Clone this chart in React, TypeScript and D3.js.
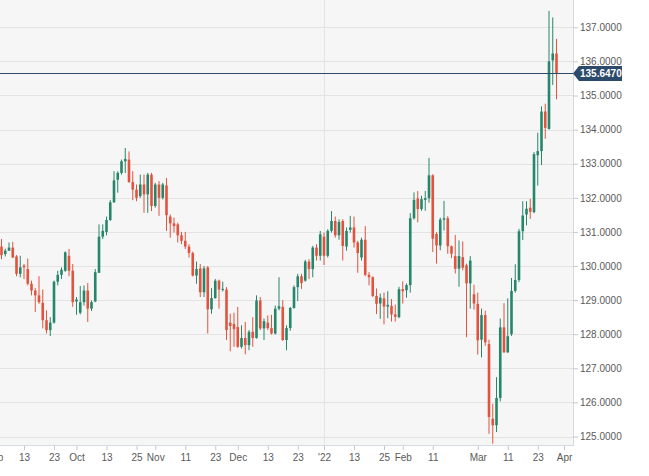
import { useEffect, useRef } from 'react';
import * as d3 from 'd3';

// open, high, low, close
type Bar = [number, number, number, number];

const sep21: Bar[] = [
  [130.57, 130.79, 130.2, 130.32], [130.35, 130.51, 130.28, 130.45], [130.45, 130.69, 130.44, 130.54],
  [130.54, 130.71, 130.23, 130.25], [130.28, 130.32, 129.7, 129.77], [129.77, 130.3, 129.67, 129.96],
  [130.01, 130.06, 129.62, 129.96], [129.91, 130.22, 129.43, 129.48], [129.48, 129.57, 129.14, 129.28],
  [129.28, 129.35, 128.65, 129.14], [129.14, 129.7, 128.89, 128.94], [128.92, 129.31, 128.17, 128.41],
  [128.41, 128.7, 128.02, 128.12], [128.12, 128.5, 127.95, 128.34], [128.34, 129.57, 128.31, 129.54],
  [129.54, 129.86, 129.43, 129.74], [129.74, 129.96, 129.62, 129.89], [129.86, 130.43, 129.83, 130.4],
  [130.3, 130.5, 129.7, 129.86], [129.86, 130.06, 128.8, 128.94],
];
const oct21: Bar[] = [
  [128.96, 129.09, 128.57, 129.02], [128.63, 129.41, 128.58, 128.94], [128.94, 129.43, 128.84, 129.28],
  [129.28, 129.5, 128.36, 128.75], [128.75, 128.99, 128.68, 128.94], [128.96, 129.91, 128.94, 129.82],
  [129.8, 131.22, 129.8, 130.86], [130.86, 131.22, 130.79, 131.03], [131.0, 131.45, 130.9, 131.35],
  [131.35, 131.93, 131.32, 131.87], [131.87, 132.78, 131.85, 132.51], [132.53, 132.78, 132.15, 132.73],
  [132.73, 133.12, 132.68, 133.07], [133.07, 133.46, 132.73, 133.14], [133.12, 133.36, 132.44, 132.46],
  [132.46, 132.78, 131.93, 132.24], [132.24, 132.39, 131.9, 132.0], [132.05, 132.68, 132.0, 132.39],
  [132.39, 132.68, 131.56, 132.1], [132.1, 132.73, 131.56, 132.68], [132.68, 132.73, 131.61, 131.76],
];
const nov21: Bar[] = [
  [131.76, 132.44, 131.71, 132.39], [132.39, 132.49, 131.47, 132.0], [132.0, 132.44, 131.95, 132.39],
  [132.36, 132.58, 131.03, 131.49], [131.45, 131.51, 130.83, 131.25], [131.25, 131.42, 130.98, 131.17],
  [131.22, 131.27, 130.69, 130.9], [130.9, 131.0, 130.64, 130.74], [130.74, 131.0, 130.5, 130.57],
  [130.57, 130.64, 130.25, 130.38], [130.38, 130.42, 129.69, 129.72], [129.72, 130.13, 129.48, 129.91],
  [129.93, 130.06, 129.09, 129.23], [129.23, 130.0, 129.09, 129.93], [129.96, 130.0, 128.02, 128.73],
  [128.73, 129.35, 128.6, 129.06], [129.06, 129.62, 129.04, 129.57], [129.57, 129.6, 128.75, 129.31],
  [129.3, 129.54, 129.25, 129.33], [129.31, 129.38, 127.83, 128.12], [128.34, 128.6, 127.5, 128.24],
  [128.3, 128.63, 127.63, 128.15],
];
const dec21: Bar[] = [
  [128.21, 128.8, 127.6, 127.63], [127.63, 128.26, 127.58, 127.89], [127.89, 128.36, 127.41, 127.68],
  [127.68, 128.12, 127.53, 128.07], [128.07, 128.5, 127.63, 127.89], [127.89, 129.14, 127.87, 128.99],
  [128.99, 129.09, 128.12, 128.17], [128.17, 128.46, 127.83, 128.38], [128.34, 128.55, 128.12, 128.18],
  [128.18, 128.57, 127.99, 128.02], [128.02, 128.84, 127.99, 128.75], [128.75, 129.67, 128.7, 128.82],
  [128.8, 129.0, 127.8, 127.83], [127.83, 128.26, 127.53, 128.18], [128.18, 128.8, 128.1, 128.77],
  [128.77, 129.43, 128.75, 129.38], [129.38, 129.77, 128.97, 129.7], [129.7, 129.77, 129.33, 129.5],
  [129.57, 130.18, 129.54, 130.13], [130.13, 130.2, 129.62, 129.91], [129.91, 130.59, 129.67, 130.54],
  [130.54, 130.64, 130.16, 130.3], [130.3, 131.03, 130.16, 130.93],
];
const jan22: Bar[] = [
  [130.86, 130.98, 130.03, 130.3], [130.3, 131.08, 130.25, 131.03], [131.03, 131.61, 130.98, 131.32],
  [131.32, 131.45, 130.83, 130.9], [130.9, 131.37, 130.77, 131.29], [131.32, 131.37, 130.16, 130.59],
  [130.57, 131.13, 130.45, 131.03], [131.06, 131.47, 130.98, 131.13], [131.13, 131.45, 130.54, 130.69],
  [130.69, 130.74, 129.8, 130.38], [130.25, 130.83, 130.16, 130.77], [130.77, 131.17, 129.7, 129.74],
  [129.74, 129.82, 129.43, 129.67], [129.67, 129.7, 129.09, 129.12], [129.12, 129.34, 128.59, 128.89],
  [128.9, 129.19, 128.45, 129.07], [129.05, 129.22, 128.29, 128.81], [128.81, 129.26, 128.47, 128.86],
  [128.83, 129.03, 128.37, 128.58], [128.58, 128.87, 128.37, 128.51], [128.5, 129.39, 128.47, 129.32],
];
const feb22: Bar[] = [
  [129.32, 129.55, 128.9, 129.26], [129.29, 129.49, 129.07, 129.44], [129.44, 131.55, 129.22, 131.4],
  [131.4, 132.16, 131.36, 131.94], [131.98, 132.2, 131.28, 131.67], [131.67, 132.06, 131.62, 131.96],
  [131.94, 132.2, 131.62, 131.99], [131.99, 133.17, 131.86, 132.66], [132.66, 132.69, 130.41, 130.8],
  [130.94, 130.99, 130.07, 130.6], [130.6, 131.42, 130.46, 131.36], [131.36, 131.91, 131.04, 131.4],
  [131.4, 131.46, 130.36, 130.58], [130.58, 130.6, 130.23, 130.36], [130.29, 130.91, 129.78, 129.92],
  [129.92, 130.75, 129.39, 130.29], [130.26, 130.72, 129.87, 129.95], [130.02, 130.07, 127.91, 129.49],
  [129.49, 130.29, 128.75, 130.16], [129.17, 129.45, 128.72, 128.9],
];
const mar22: Bar[] = [
  [128.89, 129.22, 127.4, 127.82], [127.84, 128.75, 127.32, 128.56], [128.56, 128.69, 127.66, 127.76],
  [127.71, 127.84, 125.08, 125.57], [125.52, 125.96, 124.79, 125.33], [125.33, 126.74, 125.13, 126.13],
  [126.13, 128.46, 126.03, 128.2], [128.2, 128.91, 127.45, 127.47], [127.47, 129.05, 127.45, 127.94],
  [128.0, 129.65, 127.95, 129.27], [129.27, 130.05, 129.22, 129.59], [129.59, 131.09, 129.53, 131.02],
  [131.02, 131.9, 130.76, 131.48], [131.51, 131.9, 131.19, 131.68], [131.71, 131.97, 131.38, 131.59],
  [131.58, 133.34, 131.55, 133.28], [133.25, 133.91, 132.36, 133.37], [133.37, 134.68, 132.96, 134.53],
  [134.53, 134.76, 133.73, 134.05], [134.02, 137.48, 134.0, 136.0], [136.03, 137.29, 135.31, 136.23],
  [136.23, 136.66, 134.89, 135.647],
];

// session index of each bottom tick and its label
const xTickIndex = [-2, 6, 14, 20, 28, 36, 41, 49, 57, 63, 71, 79, 86, 94, 102, 107, 115, 127, 135, 143, 150];
const xTickLabels = ['Sep', '13', '23', 'Oct', '13', '25', 'Nov', '11', '23', 'Dec', '13', '23', "'22", '13', '25', 'Feb', '11', 'Mar', '11', '23', 'Apr'];
const priceTicks = [125, 126, 127, 128, 129, 130, 131, 132, 133, 134, 135, 136, 137];
const yearStartIndex = 86;
const lastPrice = 135.647;

export default function App() {
  const svgRef = useRef<SVGSVGElement>(null);

  useEffect(() => {
    const data = [...sep21, ...oct21, ...nov21, ...dec21, ...jan22, ...feb22, ...mar22];
    const width = 649;
    const height = 476;
    const plotW = 573;
    const plotH = 445;
    const font = '"Liberation Sans", Arial, Helvetica, sans-serif';
    const up = '#26866b';
    const down = '#e2533f';

    const svg = d3.select(svgRef.current);
    svg.selectAll('*').remove();
    svg.attr('width', width).attr('height', height);

    const x = d3.scaleLinear().domain([-0.4, 152.4]).range([0, plotW]);
    const y = d3.scaleLinear().domain([125, 137]).range([436.5, 27.3]);

    // plot background
    svg.append('rect')
      .attr('x', 0).attr('y', 0)
      .attr('width', plotW).attr('height', plotH)
      .attr('fill', '#f6f6f6');

    // horizontal grid
    svg.append('g')
      .selectAll('line')
      .data(priceTicks)
      .enter()
      .append('line')
      .attr('x1', 0).attr('x2', plotW)
      .attr('y1', d => Math.round(y(d)) + 0.5)
      .attr('y2', d => Math.round(y(d)) + 0.5)
      .attr('stroke', '#e3e3e3');

    // year separator
    svg.append('line')
      .attr('x1', Math.round(x(yearStartIndex)) + 0.5)
      .attr('x2', Math.round(x(yearStartIndex)) + 0.5)
      .attr('y1', 0).attr('y2', plotH)
      .attr('stroke', '#e3e3e3');

    // candles
    const candle = svg.append('g')
      .selectAll('g')
      .data(data)
      .enter()
      .append('g');

    candle.append('line')
      .attr('x1', (d, i) => x(i))
      .attr('x2', (d, i) => x(i))
      .attr('y1', d => y(d[1]))
      .attr('y2', d => y(d[2]))
      .attr('stroke', d => (d[3] >= d[0] ? up : down))
      .attr('stroke-width', 1);

    candle.append('rect')
      .attr('x', (d, i) => x(i) - 1.3)
      .attr('width', 2.6)
      .attr('y', d => y(Math.max(d[0], d[3])))
      .attr('height', d => Math.max(1, Math.abs(y(d[0]) - y(d[3]))))
      .attr('fill', d => (d[3] >= d[0] ? up : down));

    // plot borders
    svg.append('line')
      .attr('x1', plotW + 0.5).attr('x2', plotW + 0.5)
      .attr('y1', 0).attr('y2', plotH + 1)
      .attr('stroke', '#d6dae3');
    svg.append('line')
      .attr('x1', 0).attr('x2', plotW + 1)
      .attr('y1', plotH + 0.5).attr('y2', plotH + 0.5)
      .attr('stroke', '#d6dae3');

    // bottom axis
    const xAxis = svg.append('g')
      .attr('transform', `translate(0,${plotH + 1})`)
      .call(
        d3.axisBottom(x)
          .tickValues(xTickIndex)
          .tickSize(4)
          .tickPadding(4)
          .tickFormat((d, i) => xTickLabels[i])
      );
    xAxis.select('.domain').remove();
    xAxis.selectAll('line').attr('stroke', '#c4c8d2');
    xAxis.selectAll('text')
      .style('font-family', font)
      .style('font-size', '10px')
      .attr('fill', '#5a5a5a');

    // right axis
    const yAxis = svg.append('g')
      .attr('transform', `translate(${plotW},0)`)
      .call(
        d3.axisRight(y)
          .tickValues(priceTicks)
          .tickSize(5)
          .tickPadding(2)
          .tickFormat(d => (d as number).toFixed(4))
      );
    yAxis.select('.domain').remove();
    yAxis.selectAll('line').attr('stroke', '#c4c8d2');
    yAxis.selectAll('text')
      .style('font-family', font)
      .style('font-size', '10px')
      .attr('fill', '#5a5a5a');

    // last price line + tag
    const py = Math.round(y(lastPrice)) + 0.5;
    svg.append('line')
      .attr('x1', 0).attr('x2', plotW)
      .attr('y1', py).attr('y2', py)
      .attr('stroke', '#2c4a6a')
      .attr('stroke-width', 1);

    svg.append('path')
      .attr('d', `M${plotW},${py} L${plotW + 6},${py - 7.5} L${plotW + 49},${py - 7.5} L${plotW + 49},${py + 7.5} L${plotW + 6},${py + 7.5} Z`)
      .attr('fill', '#2c4a6a');

    svg.append('text')
      .attr('x', plotW + 7)
      .attr('y', py + 3.5)
      .text(lastPrice.toFixed(4))
      .style('font-family', font)
      .style('font-size', '10px')
      .style('font-weight', 'bold')
      .attr('fill', '#ffffff');
  }, []);

  return (
    <div style={{ position: 'absolute', left: 0, top: 0, width: 649, height: 476, background: '#ffffff' }}>
      <svg ref={svgRef} style={{ display: 'block' }}></svg>
    </div>
  );
}
